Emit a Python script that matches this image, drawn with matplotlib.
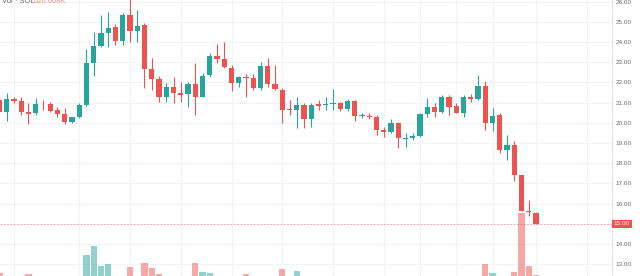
import matplotlib
matplotlib.use("Agg")
import matplotlib.pyplot as plt
import numpy as np

# candle data (price in SOL)
opens = [21.13, 20.54, 21.18, 21.08, 20.53, 20.47, 20.95, 20.96, 20.64, 20.44,
         20.04, 20.31, 20.90, 22.98, 23.81, 24.44, 24.73, 24.04, 25.36, 24.56,
         24.83, 22.65, 22.19, 21.27, 21.79, 21.46, 21.42, 21.93, 21.30, 22.36,
         23.33, 23.18, 22.72, 21.96, 22.26, 22.22, 21.73, 22.82, 21.91, 21.63,
         20.67, 20.65, 20.90, 20.18, 20.92, 20.87, 20.93, 21.00, 20.67, 21.08,
         20.33, 20.36, 20.31, 19.63, 19.53, 20.01, 19.20, 19.24, 19.37, 20.44,
         20.80, 20.55, 21.27, 20.84, 20.50, 21.30, 21.18, 21.83, 20.01, 20.39,
         18.67, 18.89, 17.41, 15.65, 15.54]
highs = [21.33, 21.50, 21.30, 21.30, 20.97, 21.25, 21.13, 21.05, 20.77, 20.74,
         20.31, 20.97, 23.64, 24.50, 25.34, 25.49, 24.90, 25.43, 26.15, 25.59,
         24.96, 23.20, 22.32, 21.99, 22.26, 22.04, 22.04, 22.95, 22.48, 23.47,
         23.89, 24.00, 22.87, 22.32, 22.42, 22.42, 23.03, 23.21, 22.85, 21.71,
         21.13, 21.30, 20.97, 20.97, 21.13, 21.30, 21.66, 21.05, 21.17, 21.13,
         20.50, 20.47, 20.39, 19.81, 20.19, 20.06, 19.48, 19.48, 20.47, 21.22,
         20.97, 21.37, 21.38, 21.00, 21.38, 21.43, 22.37, 22.07, 20.72, 20.47,
         19.40, 19.12, 17.41, 16.20, 15.59]
lows = [20.44, 20.11, 20.97, 20.39, 19.95, 20.39, 20.64, 20.55, 20.31, 19.95,
        19.98, 20.23, 20.85, 22.32, 23.74, 23.77, 23.87, 23.86, 24.02, 24.02,
        21.71, 21.63, 21.03, 21.05, 20.97, 21.05, 20.77, 20.39, 21.27, 22.29,
        22.95, 22.70, 21.59, 21.79, 21.27, 21.63, 21.63, 21.76, 21.63, 20.01,
        20.39, 19.73, 19.73, 19.81, 20.64, 20.64, 20.64, 20.59, 20.57, 20.11,
        20.23, 20.18, 19.40, 19.32, 19.48, 18.74, 18.82, 19.15, 19.32, 20.31,
        20.28, 20.47, 20.39, 20.47, 20.31, 21.05, 21.13, 19.65, 19.60, 18.52,
        18.16, 17.11, 15.64, 15.37, 14.97]
closes = [20.54, 21.17, 21.08, 20.54, 20.46, 20.92, 20.92, 20.60, 20.44, 20.04,
          20.28, 20.88, 22.98, 23.81, 24.45, 24.70, 24.04, 25.36, 24.56, 24.81,
          22.67, 22.19, 21.27, 21.79, 21.46, 21.38, 21.93, 21.30, 22.32, 23.33,
          23.18, 22.78, 21.96, 22.26, 22.24, 21.74, 22.82, 21.93, 21.69, 20.64,
          20.64, 20.90, 20.18, 20.90, 20.85, 20.93, 21.00, 20.67, 21.08, 20.34,
          20.38, 20.28, 19.63, 19.53, 20.01, 19.24, 19.27, 19.37, 20.44, 20.80,
          20.55, 21.27, 20.80, 20.50, 21.30, 21.18, 21.83, 20.01, 20.36, 18.67,
          18.89, 17.41, 15.65, 15.59, 15.00]
# volume in thousands
volumes = [108, 10, 10, 10, 68, 10, 10, 10, 10, 10,
           10, 10, 840, 1212, 400, 480, 15, 20, 348, 15,
           520, 308, 80, 15, 15, 15, 15, 520, 172, 108,
           12, 12, 12, 12, 68, 12, 12, 12, 12, 280,
           12, 212, 10, 10, 10, 10, 10, 10, 10, 10,
           10, 10, 10, 10, 10, 10, 10, 10, 10, 10,
           10, 10, 10, 10, 10, 10, 10, 468, 108, 20,
           20, 160, 2520, 412, 25]

price_ticks = [13, 14, 15, 16, 17, 18, 19, 20, 21, 22, 23, 24, 25, 26]
time_grid = [2, 11, 18, 25, 32, 39, 46, 53, 58, 63, 68, 74, 81]
header_label = "Vol · SOL"
header_value = "626.608K"

UP = "#26a69a"
DOWN = "#ef5350"


def draw_chart(fig_config):
    fig = plt.figure(figsize=(fig_config["fig_width"], fig_config["fig_height"]),
                     dpi=fig_config["dpi_size"])
    ax = fig.add_axes([0, 0, 612 / 640, 1])

    ymin, ymax = 12.42, 26.084
    ax.set_xlim(0.07, 84.48)
    ax.set_ylim(ymin, ymax)

    x = np.arange(len(opens))
    o = np.array(opens)
    c = np.array(closes)
    up = c >= o
    colors = np.where(up, UP, DOWN)

    # volume overlay at the bottom
    vol = np.array(volumes, dtype=float)
    vscale = 0.228 * (ymax - ymin) / vol.max()
    vcolors = [(0.149, 0.651, 0.604, 0.5) if u else (0.937, 0.325, 0.314, 0.5) for u in up]
    ax.bar(x, vol * vscale, bottom=ymin, width=0.88, color=vcolors, zorder=1)

    # wicks and bodies
    ax.vlines(x, lows, highs, colors=colors, linewidth=0.8, zorder=3)
    body = np.maximum(np.abs(c - o), 0.035)
    ax.bar(x, body, bottom=np.minimum(o, c), width=0.74, color=colors, zorder=4)

    # grid
    for p in price_ticks:
        ax.axhline(p, color="#f0f3fa", linewidth=0.8, zorder=0)
    for g in time_grid:
        ax.axvline(g, color="#f0f3fa", linewidth=0.8, zorder=0)

    # last price line
    ax.axhline(closes[-1], color="#ef5350", linewidth=0.6, alpha=0.55,
               linestyle=(0, (2, 2)), zorder=2)

    ax.yaxis.tick_right()
    ax.set_yticks(price_ticks)
    ax.set_yticklabels(["" if p == 15 else f"{p:.2f}" for p in price_ticks])
    ax.tick_params(axis="y", length=0, pad=2.5, labelsize=fig_config["ticks_size"],
                   labelcolor="#6a6d78")
    ax.set_xticks([])
    for s in ["top", "left", "bottom"]:
        ax.spines[s].set_visible(False)
    ax.spines["right"].set_color("#e0e3eb")
    ax.spines["right"].set_linewidth(0.8)

    ax.text(1.003, closes[-1], f"{closes[-1]:.2f}", transform=ax.get_yaxis_transform(),
            ha="left", va="center", color="white", fontsize=fig_config["ticks_size"],
            fontfamily="Liberation Sans",
            bbox=dict(boxstyle="square,pad=0.25", facecolor=DOWN, edgecolor="none"))

    fig.text(2 / 640, 1 - 3 / 276, header_label, ha="left", va="baseline",
             color="#6a6d78", fontsize=5.5, fontfamily="Liberation Sans")
    fig.text(34 / 640, 1 - 3 / 276, header_value, ha="left", va="baseline",
             color="#ef8f8d", fontsize=5.5, fontfamily="Liberation Sans")

    fig.savefig("out.png", dpi=fig_config["dpi_size"], facecolor="white")


if __name__ == "__main__":
    plt.rcParams["font.family"] = ["Liberation Sans", "DejaVu Sans"]
    fig_config = {}
    fig_config["fig_width"] = 6.4
    fig_config["fig_height"] = 2.76
    fig_config["dpi_size"] = 100
    fig_config["ticks_size"] = 4.6

    draw_chart(fig_config)
